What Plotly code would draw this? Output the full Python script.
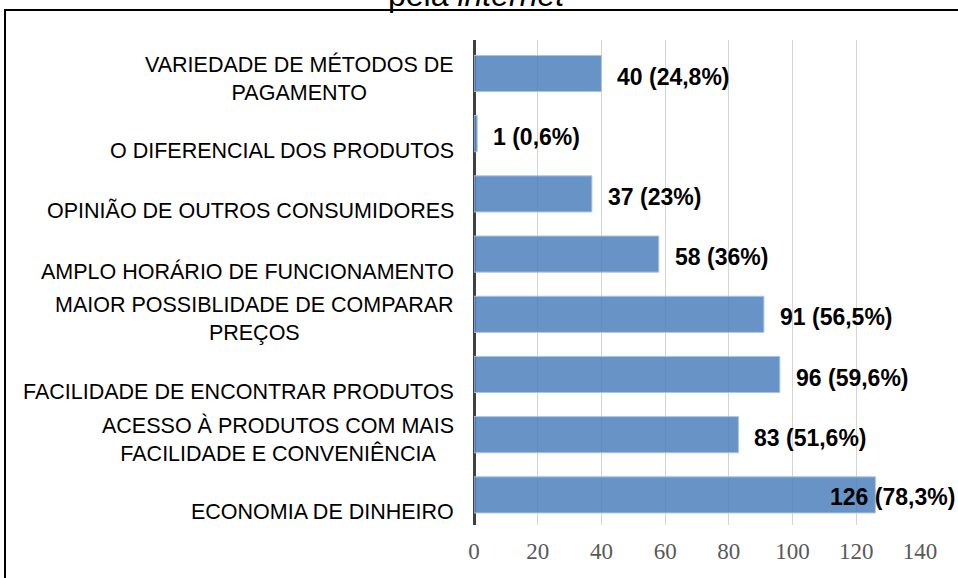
import plotly.graph_objects as go

categories = [
    "VARIEDADE DE MÉTODOS DE<br>PAGAMENTO",
    "O DIFERENCIAL DOS PRODUTOS",
    "OPINIÃO DE OUTROS CONSUMIDORES",
    "AMPLO HORÁRIO DE FUNCIONAMENTO",
    "MAIOR POSSIBLIDADE DE COMPARAR<br>PREÇOS",
    "FACILIDADE DE ENCONTRAR PRODUTOS",
    "ACESSO À PRODUTOS COM MAIS<br>FACILIDADE E CONVENIÊNCIA",
    "ECONOMIA DE DINHEIRO",
]
values = [40, 1, 37, 58, 91, 96, 83, 126]
percents = ["24,8%", "0,6%", "23%", "36%", "56,5%", "59,6%", "51,6%", "78,3%"]
x_ticks = [0, 20, 40, 60, 80, 100, 120, 140]

W, H = 958, 578
L, R, T, B = 474, 38, 40, 53
pw = W - L - R
ph = H - T - B
xmax = 140
LBL = 23

fig = go.Figure()
fig.add_trace(go.Bar(
    x=values, y=categories, orientation="h",
    marker=dict(color="rgba(79,129,189,0.86)", line=dict(color="#a9c4e4", width=1)),
    width=0.6, hoverinfo="skip",
))

annotations = []
# category labels
for c in categories:
    two = "<br>" in c
    annotations.append(dict(
        xref="paper", yref="y", x=0, y=c, xanchor="right", yanchor="middle",
        xshift=-18, yshift=-5 if two else -17, text=c, showarrow=False,
        align="center", font=dict(family="Liberation Sans, Arial", size=21.5, color="#000000"),
    ))
# data labels
for c, v, p in zip(categories, values, percents):
    txt = f"<b>{v} ({p})</b>"
    est_w = len(f"{v} ({p})") * 0.52 * LBL
    end_px = v / xmax * pw + 14 + est_w
    if end_px > pw + R:
        annotations.append(dict(
            xref="paper", yref="y", x=(pw + R - 1) / pw, y=c, xanchor="right",
            yanchor="middle", yshift=-2, text=txt, showarrow=False,
            font=dict(family="Liberation Sans, Arial", size=LBL, color="#000000"),
        ))
    else:
        annotations.append(dict(
            xref="x", yref="y", x=v, y=c, xanchor="left", yanchor="middle",
            xshift=14, yshift=-3, text=txt, showarrow=False,
            font=dict(family="Liberation Sans, Arial", size=LBL, color="#000000"),
        ))
# title (cut off at the top edge, as in the reference)
annotations.append(dict(
    xref="paper", yref="paper", x=(476 - L) / pw, y=1 + (T + 5) / ph,
    xanchor="center", yanchor="middle", showarrow=False,
    text="pela <i>internet</i>",
    font=dict(family="Liberation Sans, Arial", size=32, color="#000000"),
))

fig.update_layout(
    width=W, height=H,
    margin=dict(l=L, r=R, t=T, b=B),
    paper_bgcolor="white", plot_bgcolor="white",
    showlegend=False,
    annotations=annotations,
    shapes=[dict(
        type="rect", xref="paper", yref="paper",
        x0=(5 - L) / pw, x1=1.3, y0=-0.3, y1=1 + (T - 10) / ph,
        line=dict(color="#000000", width=2), fillcolor="rgba(0,0,0,0)", layer="below",
    )],
    xaxis=dict(
        range=[0, xmax], tickvals=x_ticks, ticktext=[str(t) for t in x_ticks],
        showgrid=True, gridcolor="#d4d4d4", gridwidth=1,
        zeroline=True, zerolinecolor="#404040", zerolinewidth=3,
        showline=False, ticks="", ticklabelstandoff=10,
        tickfont=dict(family="Liberation Serif, serif", size=23, color="#595959"),
        fixedrange=True,
    ),
    yaxis=dict(
        autorange="reversed", showticklabels=False, showgrid=False,
        zeroline=False, showline=False, ticks="", fixedrange=True,
    ),
)

fig.write_html("out.html", config={"displayModeBar": False},
               post_script="document.body.style.margin='0';document.body.style.overflow='hidden';")
